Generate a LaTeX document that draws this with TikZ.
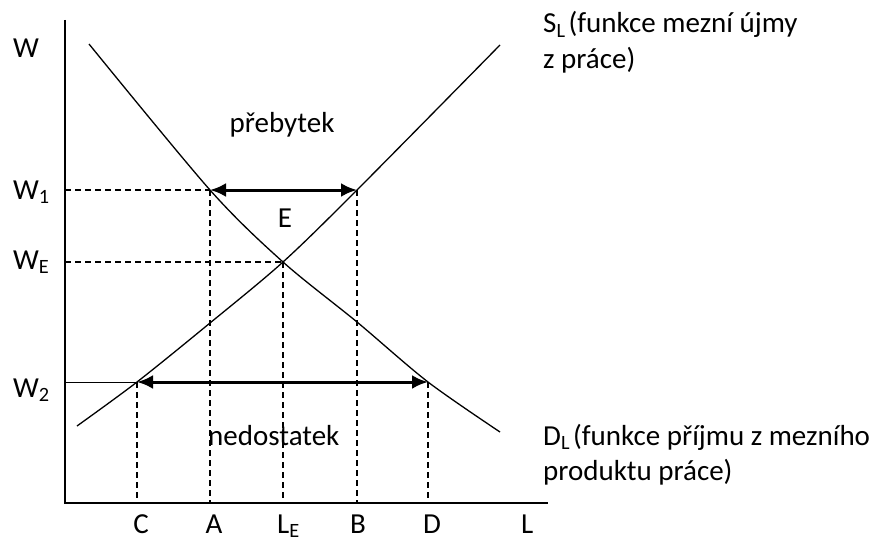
\documentclass[tikz,border=0pt]{standalone}
\usepackage{fontspec}
\setmainfont{Carlito}
\usetikzlibrary{arrows.meta}
\newcommand{\sub}[1]{\textsubscript{#1}}
\tikzstyle{axisline}  = [line width=1.6pt]
\tikzstyle{curveline} = [line width=1.3pt,smooth]
\tikzstyle{guideline} = [line width=1.3pt,dash pattern=on 6pt off 4pt]
\tikzstyle{gaparrow}  = [line width=3pt,{Latex[length=16pt,width=14pt]}-{Latex[length=16pt,width=14pt]}]
\tikzstyle{txt}       = [inner sep=0pt,anchor=base west]

\begin{document}
\begin{tikzpicture}[x=1pt,y=-1pt,font=\fontsize{29}{35}\selectfont]
\useasboundingbox (0,0) rectangle (876,543);

% points of the diagram
\coordinate (O)  at (65,503);
\coordinate (Yt) at (65,20);
\coordinate (Xr) at (548,503);
\coordinate (P1) at (210,190);
\coordinate (Q1) at (357,190);
\coordinate (E)  at (283,262);
\coordinate (P2) at (137,382);
\coordinate (Q2) at (428,382);

% axes
\draw[axisline] (Yt) -- (O) -- (Xr);

% demand and supply
\draw[curveline] plot coordinates {(89,44) (210,190) (283,262) (357,322) (428,382) (500,432)};
\draw[curveline] plot coordinates {(77,426) (137,382) (210,323) (283,262) (357,190) (500,45)};

% guide lines
\draw[guideline] (O |- P1) -- (P1);
\draw[guideline] (O |- E) -- (E);
\draw[line width=0.9pt] (O |- P2) -- (P2);
\draw[guideline] (P1) -- (P1 |- O);
\draw[guideline] (Q1) -- (Q1 |- O);
\draw[guideline] (E) -- (E |- O);
\draw[guideline] (P2) -- (P2 |- O);
\draw[guideline] (Q2) -- (Q2 |- O);

% surplus and shortage
\draw[gaparrow] (P1) -- (Q1);
\draw[gaparrow] (P2) -- (Q2);

% labels
\node[txt] (w)  at (13,58)  {W};
\node[txt] (w1) at (13,199) {W\sub{1}};
\node[txt] (wE) at (13,269) {W\sub{E}};
\node[txt] (w2) at (13,397) {W\sub{2}};

\node[txt,anchor=base] (c) at (141,533) {C};
\node[txt,anchor=base] (a) at (214,533) {A};
\node[txt] (lE) at (277,533) {L\sub{E}};
\node[txt,anchor=base] (b) at (358,533) {B};
\node[txt,anchor=base] (d) at (432,533) {D};
\node[txt] (l) at (521,533) {L};

\node[txt,anchor=base] (surplus) at (282,132) {přebytek};
\node[txt,anchor=base] (eq) at (285,227) {E};
\node[txt] (shortage) at (208,445) {nedostatek};

\node[txt] (s1) at (543,33) {S\sub{L}\hspace{3pt}(funkce mezní újmy};
\node[txt] (s2) at (543,69) {z práce)};
\node[txt] (d1) at (543,445) {D\sub{L}\hspace{3pt}(funkce příjmu z mezního};
\node[txt] (d2) at (543,480) {produktu práce)};

\end{tikzpicture}
\end{document}
